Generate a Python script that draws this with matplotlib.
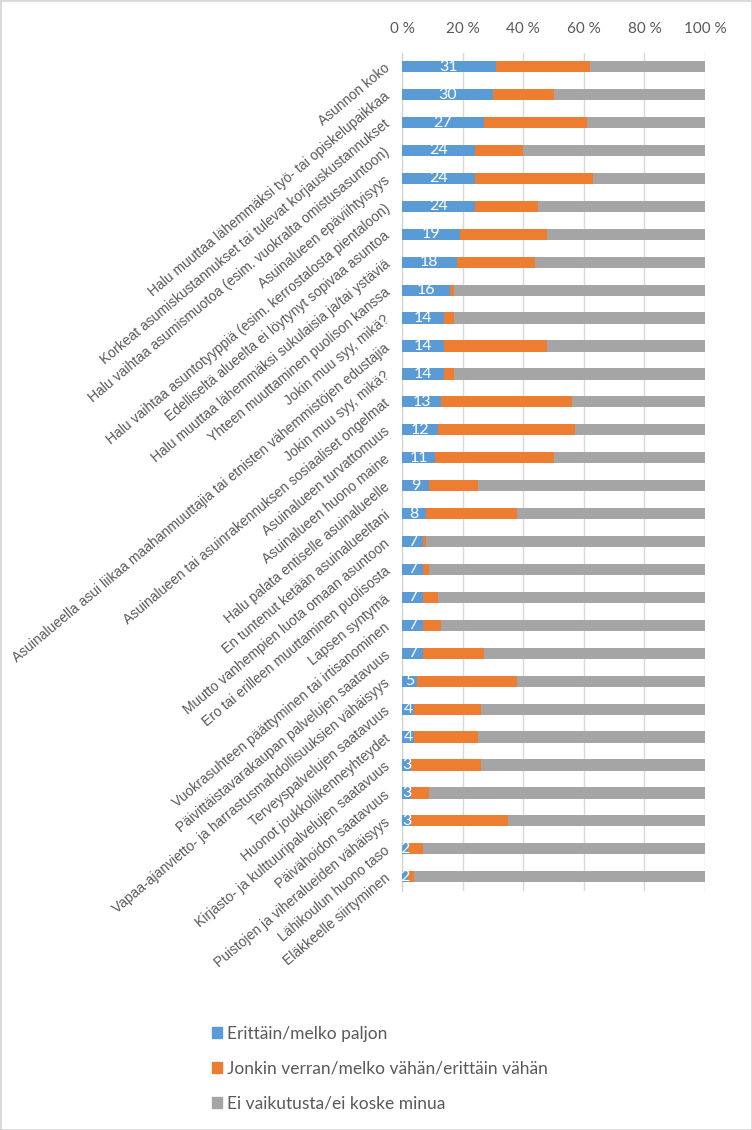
import matplotlib
matplotlib.use("Agg")
import matplotlib.pyplot as plt
from matplotlib.patches import Patch, Rectangle
import numpy as np

categories = [
    "Asunnon koko",
    "Halu muuttaa lähemmäksi työ- tai opiskelupaikkaa",
    "Korkeat asumiskustannukset tai tulevat korjauskustannukset",
    "Halu vaihtaa asumismuotoa (esim. vuokralta omistusasuntoon)",
    "Asuinalueen epäviihtyisyys",
    "Halu vaihtaa asuntotyyppiä (esim. kerrostalosta pientaloon)",
    "Edelliseltä alueelta ei löytynyt sopivaa asuntoa",
    "Halu muuttaa lähemmäksi sukulaisia ja/tai ystäviä",
    "Yhteen muuttaminen puolison kanssa",
    "Jokin muu syy, mikä?",
    "Asuinalueella asui liikaa maahanmuuttajia tai etnisten vähemmistöjen edustajia",
    "Jokin muu syy, mikä?",
    "Asuinalueen tai asuinrakennuksen sosiaaliset ongelmat",
    "Asuinalueen turvattomuus",
    "Asuinalueen huono maine",
    "Halu palata entiselle asuinalueelle",
    "En tuntenut ketään asuinalueeltani",
    "Muutto vanhempien luota omaan asuntoon",
    "Ero tai erilleen muuttaminen puolisosta",
    "Lapsen syntymä",
    "Vuokrasuhteen päättyminen tai irtisanominen",
    "Päivittäistavarakaupan palvelujen saatavuus",
    "Vapaa-ajanvietto- ja harrastusmahdollisuuksien vähäisyys",
    "Terveyspalvelujen saatavuus",
    "Huonot joukkoliikenneyhteydet",
    "Kirjasto- ja kulttuuripalvelujen saatavuus",
    "Päivähoidon saatavuus",
    "Puistojen ja viheralueiden vähäisyys",
    "Lähikoulun huono taso",
    "Eläkkeelle siirtyminen",
]

paljon = [31, 30, 27, 24, 24, 24, 19, 18, 16, 14, 14, 14, 13, 12, 11,
          9, 8, 7, 7, 7, 7, 7, 5, 4, 4, 3, 3, 3, 2, 2]
vahan = [31, 20, 34, 16, 39, 21, 29, 26, 1, 3, 34, 3, 43, 45, 39,
         16, 30, 1, 2, 5, 6, 20, 33, 22, 21, 23, 6, 32, 5, 2]
ei_vaik = [38, 50, 39, 60, 37, 55, 52, 56, 83, 83, 52, 83, 44, 43, 50,
           75, 62, 92, 91, 88, 87, 73, 62, 74, 75, 74, 91, 65, 93, 96]

series_names = ["Erittäin/melko paljon",
                "Jonkin verran/melko vähän/erittäin vähän",
                "Ei vaikutusta/ei koske minua"]
colors = ["#5B9BD5", "#ED7D31", "#A5A5A5"]
xticks = [0, 20, 40, 60, 80, 100]
xtick_labels = ["0 %", "20 %", "40 %", "60 %", "80 %", "100 %"]

txt = "#595959"
fig = plt.figure(figsize=(7.52, 11.3), dpi=100)
ax = fig.add_axes([402/752, 1 - 890.7/1130, 303/752, (890.7 - 52.7)/1130])

y = np.arange(len(categories))
b = np.array(paljon, float)
o = np.array(vahan, float)
g = np.array(ei_vaik, float)
h = 0.4
ax.barh(y, b, height=h, color=colors[0], zorder=3)
ax.barh(y, o, left=b, height=h, color=colors[1], zorder=3)
ax.barh(y, g, left=b + o, height=h, color=colors[2], zorder=3)

for yi, v in zip(y, paljon):
    ax.text(v / 2, yi, str(v), ha="center", va="center", color="white",
            fontsize=11.5, family="Lato", zorder=4)

ax.set_xlim(0, 100)
ax.set_ylim(len(categories) - 0.5, -0.5)
ax.xaxis.tick_top()
ax.set_xticks(xticks)
ax.set_xticklabels(xtick_labels, fontsize=11, color=txt, family="Lato")
ax.tick_params(axis="x", length=0, pad=12)
ax.set_yticks(y)
ax.set_yticklabels(categories, rotation=40, ha="right", va="center",
                   rotation_mode="anchor", fontsize=10, color=txt,
                   family="Liberation Sans")
ax.tick_params(axis="y", length=0, pad=10)
for s in ["top", "right", "bottom"]:
    ax.spines[s].set_visible(False)
ax.spines["left"].set_color("#d0d0d0")
ax.grid(axis="x", color="#d9d9d9", linewidth=1, zorder=0)
ax.set_axisbelow(True)

handles = [Patch(color=c) for c in colors]
fig.legend(handles, series_names, loc="upper left",
           bbox_to_anchor=(196/752, 1 - 1010/1130), frameon=False,
           handlelength=0.6, handleheight=0.6, handletextpad=0.3,
           labelspacing=1.1, prop={"family": "Lato", "size": 12.5},
           labelcolor=txt)

fig.patches.append(Rectangle((0, 0), 1, 1, transform=fig.transFigure,
                             fill=False, edgecolor="#d9d9d9", linewidth=2))

fig.savefig("out.png", dpi=100)
